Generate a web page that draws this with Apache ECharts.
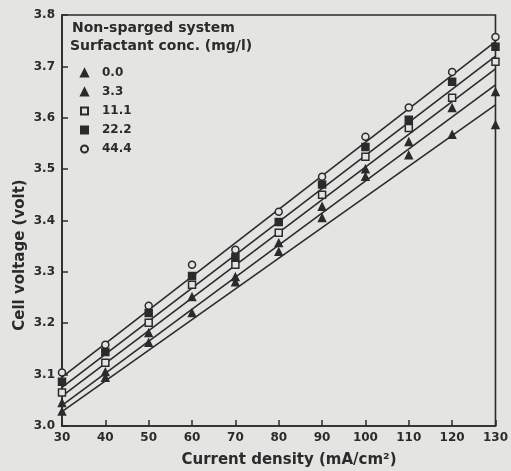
<!DOCTYPE html>
<html><head><meta charset="utf-8">
<script src="https://cdn.jsdelivr.net/npm/echarts@6/dist/echarts.min.js"></script>
<style>html,body{margin:0;padding:0;background:#e4e4e2}#c{width:511px;height:471px}</style>
</head><body><div id="c"></div>
<script>
const currentDensity = [30, 40, 50, 60, 70, 80, 90, 100, 110, 120, 130];
const seriesNames = ['0.0', '3.3', '11.1', '22.2', '44.4'];
const v00  = [3.028, 3.094, 3.162, 3.220, 3.280, 3.339, 3.405, 3.485, 3.527, 3.567, 3.586];
const v33  = [3.045, 3.105, 3.181, 3.251, 3.290, 3.356, 3.427, 3.500, 3.553, 3.619, 3.650];
const v111 = [3.065, 3.123, 3.201, 3.275, 3.314, 3.376, 3.450, 3.524, 3.580, 3.639, 3.709];
const v222 = [3.086, 3.144, 3.220, 3.292, 3.329, 3.397, 3.470, 3.543, 3.596, 3.670, 3.738];
const v444 = [3.104, 3.158, 3.234, 3.314, 3.343, 3.417, 3.485, 3.563, 3.620, 3.689, 3.757];
// fitted straight lines: values at x = 30 and x = 130
const fitX = [30, 130];
const fit00  = [3.028, 3.625];
const fit33  = [3.040, 3.664];
const fit111 = [3.058, 3.695];
const fit222 = [3.075, 3.720];
const fit444 = [3.095, 3.748];
const yTicks = ['3.0','3.1','3.2','3.3','3.4','3.5','3.6','3.7','3.8'];

const ink = '#2b2b2b', bg = '#e4e4e2';
const font = 'DejaVu Sans';
const values = [v00, v33, v111, v222, v444];
const fits = [fit00, fit33, fit111, fit222, fit444];
const symbols = ['triangle', 'triangle', 'rect', 'rect', 'circle'];
const filled = [true, true, false, true, false];

const series = [];
fits.forEach((f, i) => {
  series.push({
    name: 'fit ' + seriesNames[i], type: 'line', silent: true, symbol: 'none',
    data: fitX.map((x, j) => [x, f[j]]),
    lineStyle: { color: ink, width: 1.6 }, z: 2
  });
});
values.forEach((v, i) => {
  series.push({
    name: seriesNames[i], type: 'scatter', symbol: symbols[i], symbolSize: 7,
    data: currentDensity.map((x, j) => [x, v[j]]),
    itemStyle: { color: filled[i] ? ink : bg, borderColor: ink, borderWidth: 1.5, opacity: 1 },
    z: 3
  });
});

const chart = echarts.init(document.getElementById('c'), null, { renderer: 'canvas' });
chart.setOption({
  backgroundColor: bg,
  animation: false,
  textStyle: { fontFamily: font },
  grid: { left: 62, right: 15, top: 15, bottom: 45, show: true, borderColor: ink, borderWidth: 1.6, backgroundColor: 'transparent' },
  xAxis: {
    type: 'value', min: 30, max: 130, interval: 10,
    axisLine: { show: true, lineStyle: { color: ink, width: 1.6 } },
    axisTick: { show: true, inside: true, length: 6, lineStyle: { color: ink, width: 1.5 } },
    axisLabel: { color: ink, fontSize: 12, fontWeight: 'bold', fontFamily: font, margin: 6 },
    splitLine: { show: false }
  },
  yAxis: {
    type: 'value', min: 3.0, max: 3.8, interval: 0.1,
    axisLine: { show: true, lineStyle: { color: ink, width: 1.6 } },
    axisTick: { show: true, inside: true, length: 6, lineStyle: { color: ink, width: 1.5 } },
    axisLabel: { color: ink, fontSize: 12, fontWeight: 'bold', fontFamily: font, margin: 7,
      formatter: (v) => yTicks[Math.round((v - 3.0) * 10)] },
    splitLine: { show: false }
  },
  legend: {
    data: seriesNames, orient: 'vertical', left: 75, top: 62,
    itemWidth: 7, itemHeight: 7, itemGap: 7,
    textStyle: { color: ink, fontSize: 12, fontWeight: 'bold', fontFamily: font, padding: [0, 0, 0, 9] },
    selectedMode: false
  },
  graphic: [
    { type: 'text', left: 72, top: 21, style: { text: 'Non-sparged system', fill: ink, font: 'bold 14px "DejaVu Sans"' } },
    { type: 'text', left: 70, top: 39, style: { text: 'Surfactant conc. (mg/l)', fill: ink, font: 'bold 14px "DejaVu Sans"' } },
    { type: 'text', x: 20, y: 255, rotation: Math.PI / 2, style: { text: 'Cell voltage (volt)', fill: ink, font: 'bold 15px "DejaVu Sans"', align: 'center', verticalAlign: 'middle' } },
    { type: 'text', x: 289, y: 460, style: { text: 'Current density (mA/cm²)', fill: ink, font: 'bold 15px "DejaVu Sans"', align: 'center', verticalAlign: 'middle' } }
  ],
  series: series
});
</script></body></html>
